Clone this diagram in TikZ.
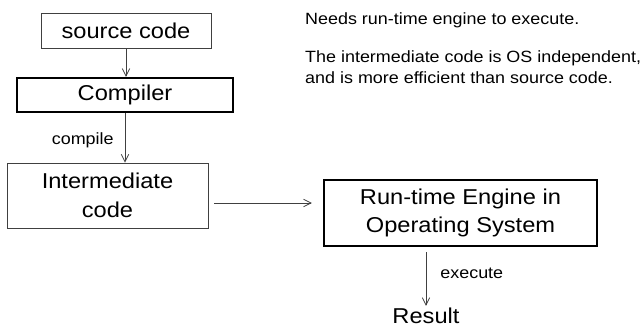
\documentclass[tikz,border=0pt]{standalone}
\usepackage{fontspec}
\setmainfont{Liberation Sans}[FakeStretch=1.1]
\usetikzlibrary{arrows.meta,positioning}

\begin{document}
\begin{tikzpicture}[
 x=1pt,y=-1pt,
 box/.style={draw=black!75,line width=0.9pt,align=center,inner sep=2pt,
              font=\fontsize{21.5}{28.5}\selectfont},
 boldbox/.style={box,draw=black,line width=2.4pt},
 note/.style={anchor=west,align=left,inner sep=0pt,
              font=\fontsize{16.3}{21}\selectfont},
 arrow/.style={-{Straight Barb[length=2.6mm,width=2.6mm]},draw=black!75,line width=0.8pt}
]
\useasboundingbox (0,0) rectangle (644,329);
\node[box,minimum width=170pt,minimum height=35pt] (src) at (126,30.5) {source code};
\node[boldbox,minimum width=216pt,minimum height=34pt] (comp) at (125,95) {Compiler};
\node[box,minimum width=201pt,minimum height=65pt] (inter) at (107.5,195.5) {Intermediate\\code};
\node[boldbox,minimum width=273pt,minimum height=66pt] (rt) at (460.5,213) {Run-time Engine in\\Operating System};
\node[font=\fontsize{21.5}{28.5}\selectfont,inner sep=2pt] (res) at (426,316) {Result};
\node[note] (needs) at (305,20) {Needs run-time engine to execute.};
\node[note] (indep) at (305,67.5) {The intermediate code is OS independent,\\and is more efficient than source code.};
\draw[arrow] (src.south) -- (src.south |- comp.north);
\draw[arrow] (comp.south) -- (comp.south |- inter.north)
  node[note,anchor=east,pos=0.55,xshift=-11pt] (compile) {compile};
\draw[arrow] ([xshift=6pt,yshift=-7.5pt]inter.east) -- ([xshift=-11pt,yshift=10pt]rt.west);
\draw[arrow,shorten <=5pt] (res.north |- rt.south) -- (res.north)
  node[note,pos=0.45,xshift=14pt] (exec) {execute};
\end{tikzpicture}
\end{document}
